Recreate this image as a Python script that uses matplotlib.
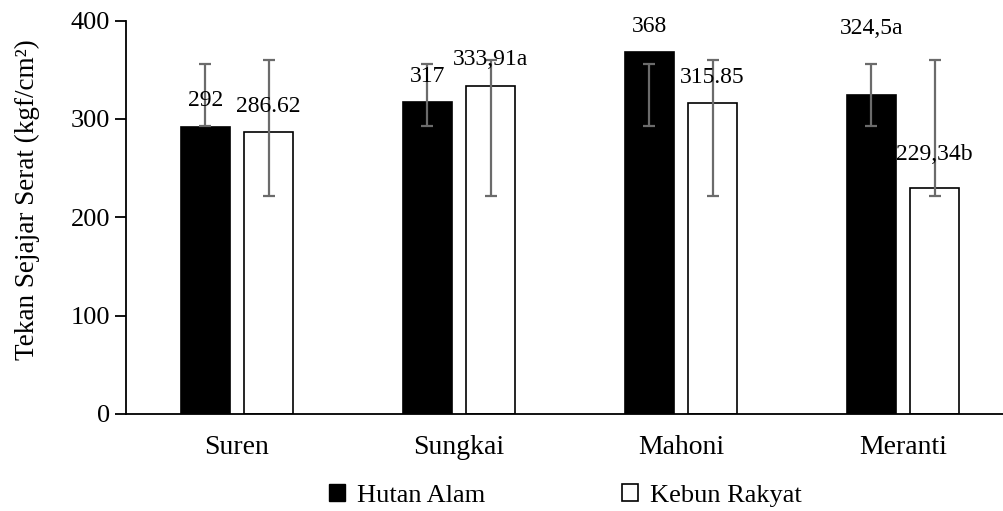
import numpy as np
import matplotlib.pyplot as plt
from matplotlib.patches import Patch

# Data
jenis = ['Suren', 'Sungkai', 'Mahoni', 'Meranti']
hutan_alam = [292, 317, 368, 324.5]
kebun_rakyat = [286.62, 333.91, 315.85, 229.34]
label_ha = ['292', '317', '368', '324,5a']
label_kr = ['286.62', '333,91a', '315.85', '229,34b']

# error bar (batas bawah, batas atas)
err_ha_low = [293, 293, 293, 293]
err_ha_high = [356, 356, 356, 356]
err_kr_low = [222, 222, 222, 222]
err_kr_high = [360, 360, 360, 360]

plt.rcParams['font.family'] = ['Liberation Serif', 'DejaVu Serif']

fig = plt.figure(figsize=(10.04, 5.11), dpi=100)
ax = fig.add_axes([0.1255, 0.19, 0.8745, 0.7695])

x = np.arange(len(jenis))
w = 0.223
off = 0.142

ax.bar(x - off, hutan_alam, w, color='black', edgecolor='black', linewidth=1.2)
ax.bar(x + off, kebun_rakyat, w, color='white', edgecolor='black', linewidth=1.2)

# error bar abu-abu
for xs, lo, hi in [(x - off, err_ha_low, err_ha_high), (x + off, err_kr_low, err_kr_high)]:
    lo = np.array(lo)
    hi = np.array(hi)
    ax.errorbar(xs, (lo + hi) / 2, yerr=(hi - lo) / 2, fmt='none',
                ecolor='#6b6b6b', elinewidth=1.6, capsize=4, capthick=1.6)

# posisi label (jarak di atas batang)
geser_ha = [21, 21, 21, 61.5]
geser_kr = [21, 21, 21, 28.5]
for i in range(len(jenis)):
    ax.text(x[i] - off, hutan_alam[i] + geser_ha[i], label_ha[i],
            ha='center', va='baseline', fontsize=17)
    ax.text(x[i] + off, kebun_rakyat[i] + geser_kr[i], label_kr[i],
            ha='center', va='baseline', fontsize=17)

ax.set_xlim(-0.5, 3.455)
ax.set_ylim(0, 400)
ax.set_yticks([0, 100, 200, 300, 400])
ax.set_xticks(x)
ax.set_xticklabels(jenis, fontsize=20)
ax.tick_params(axis='x', length=0, pad=15)
ax.tick_params(axis='y', labelsize=19, length=8, width=1.3, pad=3.5)

for s in ['top', 'right']:
    ax.spines[s].set_visible(False)
for s in ['left', 'bottom']:
    ax.spines[s].set_linewidth(1.3)

ax.set_ylabel('Tekan Sejajar Serat (kgf/cm²)', fontsize=19.5)
ax.yaxis.set_label_coords(-0.098, 0.545)

handles = [Patch(facecolor='black', edgecolor='black', label='Hutan Alam'),
           Patch(facecolor='white', edgecolor='black', linewidth=1.2, label='Kebun Rakyat')]
fig.legend(handles=handles, loc='center', bbox_to_anchor=(0.563, 0.03), ncol=2,
           frameon=False, fontsize=19, handlelength=0.6, handleheight=0.6,
           handletextpad=0.45, columnspacing=5.2, borderpad=0)

fig.savefig('out.png', dpi=100)
